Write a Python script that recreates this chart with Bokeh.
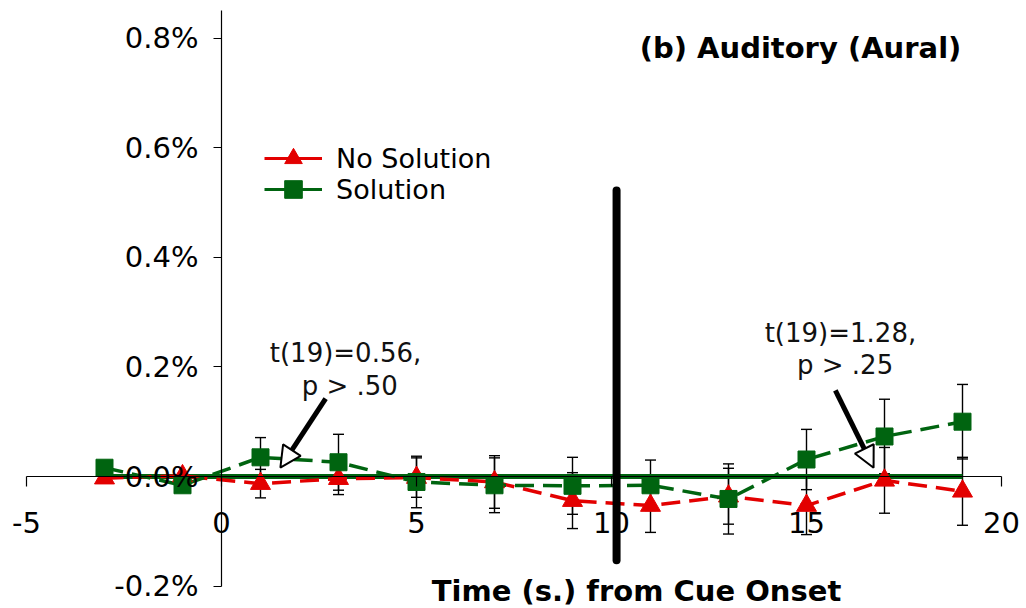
import math
from bokeh.plotting import figure
from bokeh.models import (Range1d, LinearAxis, FixedTicker, PrintfTickFormatter, Whisker,
                          TeeHead, ColumnDataSource, Label, Arrow, NormalHead, Legend, LegendItem)
from bokeh.embed import file_html
from bokeh.resources import INLINE

# ---------------- data ----------------
time_s = [-3, -1, 1, 3, 5, 7, 9, 11, 13, 15, 17, 19]
no_solution = [-0.003, 0.001, -0.013, -0.004, -0.002, -0.010, -0.044, -0.053, -0.036, -0.053, -0.007, -0.027]
no_solution_err = [0, 0, 0.026, 0.029, 0.036, 0.048, 0.051, 0.049, 0.051, 0.053, 0.060, 0.062]
solution = [0.016, -0.016, 0.035, 0.026, -0.010, -0.016, -0.017, -0.016, -0.041, 0.031, 0.073, 0.100]
solution_err = [0, 0, 0.036, 0.051, 0.047, 0.050, 0.052, 0.046, 0.064, 0.055, 0.068, 0.068]
baseline = [0.0, 0.0]
x_ticks = [-5, 0, 5, 10, 15, 20]
y_ticks = [-0.2, 0.0, 0.2, 0.4, 0.6, 0.8]
cue_x = 10.13
cue_y = [-0.153, 0.522]

title_text = "(b) Auditory (Aural)"
x_label_text = "Time (s.) from Cue Onset"
series_names = ["No Solution", "Solution"]
ann_left = ["t(19)=0.56,", "p > .50"]
ann_right = ["t(19)=1.28,", "p > .25"]

RED = "#e30000"
GREEN = "#006410"
FONT = "DejaVu Sans"

W, H = 1026, 608
X0_PX, Y0_PX = 221, 476
PX_X, PX_Y = 39.0, 548.0

p = figure(width=W, height=H, output_backend="svg", toolbar_location=None,
           x_axis_location=None, y_axis_location=None, min_border=0,
           x_range=Range1d(-X0_PX / PX_X, (W - X0_PX) / PX_X),
           y_range=Range1d((Y0_PX - H) / PX_Y, Y0_PX / PX_Y))
p.outline_line_color = None
p.grid.visible = False
p.background_fill_color = "white"
p.border_fill_color = "white"

xaxis = LinearAxis(fixed_location=0, ticker=FixedTicker(ticks=x_ticks), bounds=(-5, 20),
                   formatter=PrintfTickFormatter(format="%d"))
yaxis = LinearAxis(fixed_location=0, ticker=FixedTicker(ticks=y_ticks), bounds=(-0.2, 0.85),
                   formatter=PrintfTickFormatter(format="%.1f%%"))
for ax in (xaxis, yaxis):
    ax.axis_line_color = "black"
    ax.axis_line_width = 1.2
    ax.major_tick_line_color = "black"
    ax.major_tick_line_width = 1.2
    ax.major_tick_in = 0
    ax.minor_tick_line_color = None
    ax.major_label_text_font = FONT
    ax.major_label_text_font_size = "29px"
    ax.major_label_text_color = "black"
xaxis.major_tick_out = 10
xaxis.major_label_standoff = 25
yaxis.major_tick_out = 8
yaxis.major_label_standoff = 15
p.add_layout(xaxis, "below")
p.add_layout(yaxis, "left")

# error bars
def whisk(xs, ys, es):
    xx = [x for x, e in zip(xs, es) if e > 0]
    lo = [y - e for y, e in zip(ys, es) if e > 0]
    hi = [y + e for y, e in zip(ys, es) if e > 0]
    src = ColumnDataSource(dict(base=xx, lower=lo, upper=hi))
    w = Whisker(source=src, base="base", lower="lower", upper="upper", line_color="black",
                line_width=1.4,
                upper_head=TeeHead(size=11, line_color="black", line_width=1.4),
                lower_head=TeeHead(size=11, line_color="black", line_width=1.4))
    p.add_layout(w)

whisk(time_s, solution, solution_err)
whisk(time_s, no_solution, no_solution_err)

# zero line of solution series
p.line([time_s[0], time_s[-1]], baseline, line_color=GREEN, line_width=5)

# dashed series
p.line(time_s, no_solution, line_color=RED, line_width=3.5, line_dash="19 9")
p.line(time_s, solution, line_color=GREEN, line_width=3.5, line_dash="19 9")
p.scatter(time_s, no_solution, marker="triangle", size=20, fill_color=RED, line_color=RED)
p.scatter(time_s, solution, marker="square", size=17, fill_color=GREEN, line_color=GREEN)

# cue marker
p.line([cue_x, cue_x], cue_y, line_color="black", line_width=8, line_cap="round")

# legend (solid line style), one Legend per row so rows can sit close together
nan = float("nan")
lr1 = p.line([nan], [nan], line_color=RED, line_width=3)
lr2 = p.scatter([nan], [nan], marker="triangle", size=20, fill_color=RED, line_color=RED)
lg1 = p.line([nan], [nan], line_color=GREEN, line_width=3)
lg2 = p.scatter([nan], [nan], marker="square", size=17, fill_color=GREEN, line_color=GREEN)
leg_rows = [(series_names[0], [lr1, lr2], 428), (series_names[1], [lg1, lg2], 397)]
for name, rends, vy in leg_rows:
    legend = Legend(items=[LegendItem(label=name, renderers=rends)],
                    location=(264, vy), padding=0, margin=0, spacing=0,
                    glyph_width=58, glyph_height=44, label_height=26, label_standoff=14,
                    label_text_font=FONT, label_text_font_size="27px", label_text_color="black",
                    border_line_color=None, background_fill_alpha=0)
    p.add_layout(legend, "center")

# title and x label
p.add_layout(Label(x=800, y=H - 47, x_units="screen", y_units="screen", text=title_text,
                   text_font=FONT, text_font_style="bold", text_font_size="29px",
                   text_align="center", text_baseline="middle", text_color="black"))
p.add_layout(Label(x=636, y=H - 590, x_units="screen", y_units="screen", text=x_label_text,
                   text_font=FONT, text_font_style="bold", text_font_size="29px",
                   text_align="center", text_baseline="middle", text_color="black"))

# annotations
ann_pos_left = [(3.18, 0.2245), (3.29, 0.166)]
ann_pos_right = [(15.87, 0.261), (15.99, 0.2026)]
for texts, poss in ((ann_left, ann_pos_left), (ann_right, ann_pos_right)):
    for t, (ax_, ay_) in zip(texts, poss):
        p.add_layout(Label(x=ax_, y=ay_, text=t, text_font=FONT, text_font_size="26px",
                           text_align="center", text_baseline="middle", text_color="#111111"))

arrows = [((2.67, 0.142), (1.51, 0.016)), ((15.74, 0.157), (16.72, 0.016))]
for (xs, ys), (xe, ye) in arrows:
    p.add_layout(Arrow(x_start=xs, y_start=ys, x_end=xe, y_end=ye, line_width=5, line_color="black",
                       end=NormalHead(size=21, fill_color="white", line_color="black", line_width=2)))

open("out.html", "w").write(file_html(p, INLINE))
